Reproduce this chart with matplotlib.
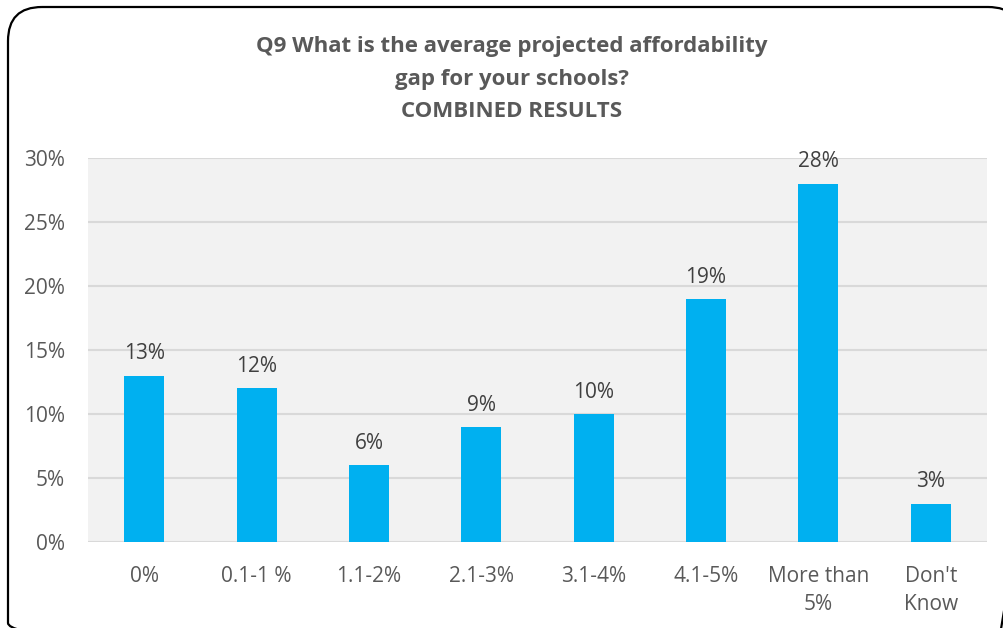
import matplotlib
matplotlib.use('Agg')
import matplotlib.pyplot as plt
from matplotlib.patches import FancyBboxPatch
from matplotlib.ticker import PercentFormatter

plt.rcParams['font.family'] = ['Open Sans', 'DejaVu Sans']

categories = ['0%', '0.1-1 %', '1.1-2%', '2.1-3%', '3.1-4%', '4.1-5%', 'More than\n5%', "Don't\nKnow"]
values = [13, 12, 6, 9, 10, 19, 28, 3]
yticks = [0, 5, 10, 15, 20, 25, 30]

W, H = 1004, 628
fig = plt.figure(figsize=(W / 100, H / 100), dpi=100)

# overlay in pixel units for the rounded outline
bg = fig.add_axes([0, 0, 1, 1])
bg.set_xlim(0, W)
bg.set_ylim(H, 0)
bg.axis('off')
bg.add_patch(FancyBboxPatch((8, 7), 1014, 650,
                            boxstyle='round,pad=0,rounding_size=34',
                            fill=False, edgecolor='black', linewidth=1.6,
                            clip_on=True))

ax = fig.add_axes([88 / W, (H - 542) / H, (987 - 88) / W, (542 - 158) / H])
ax.set_facecolor('#F2F2F2')

x = range(len(categories))
bars = ax.bar(x, values, width=0.356, color='#00B0F0', zorder=3)
for b, v in zip(bars, values):
    ax.annotate(f'{v}%', (b.get_x() + b.get_width() / 2, v),
                xytext=(0, 8), textcoords='offset points',
                ha='center', va='bottom', fontsize=15, color='#404040', zorder=4)

ax.set_xlim(-0.5, len(categories) - 0.5)
ax.set_ylim(0, 30)
ax.set_yticks(yticks)
ax.yaxis.set_major_formatter(PercentFormatter(decimals=0))
ax.set_xticks(list(x))
ax.set_xticklabels(categories, linespacing=1.45)
ax.grid(axis='y', color='#D9D9D9', linewidth=1.5, zorder=0)
for s in ax.spines.values():
    s.set_visible(False)
ax.tick_params(length=0, colors='#595959', labelsize=15)
ax.tick_params(axis='x', pad=17)
ax.tick_params(axis='y', pad=16.5)

fig.text(0.51, 1 - 79 / H, 'Q9 What is the average projected affordability\ngap for your schools?\nCOMBINED RESULTS',
         ha='center', va='center', fontsize=16, fontweight='bold', color='#595959',
         linespacing=1.72)

fig.savefig('out.png', dpi=100)
